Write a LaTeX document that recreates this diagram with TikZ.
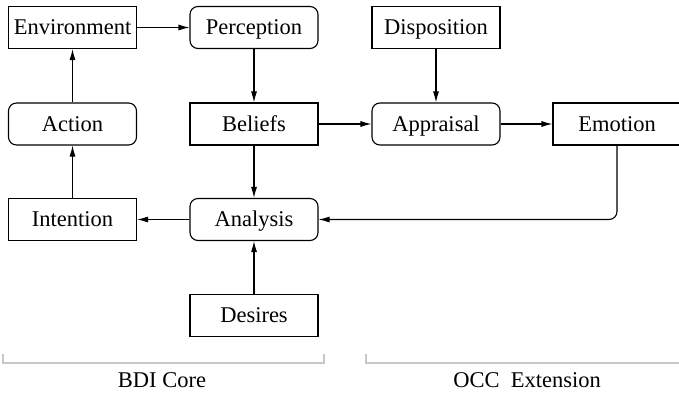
\documentclass[tikz,border=0pt]{standalone}
\usepackage{fontspec}
\setmainfont{Liberation Serif}
\usetikzlibrary{arrows.meta}
\begin{document}
\begin{tikzpicture}[x=1pt,y=-1pt,
  every node/.style={font=\fontsize{22.5}{26}\selectfont},
  sqbox/.style={draw,line width=1.1pt,minimum width=128pt,minimum height=42pt,
    inner sep=0pt,text height=19pt,text depth=4.5pt},
  rndbox/.style={sqbox,rounded corners=8pt},
  flow/.style={line width=1.1pt,-{Latex[length=11pt,width=6pt]}},
  brace/.style={draw=black!22,line width=1.2pt},
  grouplabel/.style={font=\fontsize{22.5}{26}\selectfont}]
  \useasboundingbox (0,0) rectangle (679,393);
  \clip (0,0) rectangle (679,393);

  % nodes
  \node[sqbox]  (env)  at (72.5,27.5)  {Environment};
  \node[rndbox] (perc) at (254,27.5)   {Perception};
  \node[sqbox]  (disp) at (436,27.5)   {Disposition};
  \node[rndbox] (act)  at (72.5,124)   {Action};
  \node[sqbox]  (bel)  at (254,124)    {Beliefs};
  \node[rndbox] (appr) at (436,124)    {Appraisal};
  \node[sqbox]  (emo)  at (617,124)    {Emotion};
  \node[sqbox]  (int)  at (72.5,219.5) {Intention};
  \node[rndbox] (ana)  at (254,219.5)  {Analysis};
  \node[sqbox]  (des)  at (254,315.5)  {Desires};

  % connectors
  \draw[flow] (env) -- (perc);
  \draw[flow] (perc) -- (bel);
  \draw[flow] (disp) -- (appr);
  \draw[flow] (bel) -- (appr);
  \draw[flow] (appr) -- (emo);
  \draw[flow] (bel) -- (ana);
  \draw[flow] (ana) -- (int);
  \draw[flow] (int) -- (act);
  \draw[flow] (act) -- (env);
  \draw[flow] (des) -- (ana);
  \draw[flow,rounded corners=8pt] (emo.south) |- (ana.east);

  % group brackets
  \coordinate (bdiL) at (3,354);
  \coordinate (bdiR) at (324,354);
  \coordinate (occL) at (366,354);
  \coordinate (occR) at (690,354);
  \draw[brace] (bdiL) -- ++(0,9) -| (bdiR);
  \draw[brace] (occL) -- ++(0,9) -| (occR);
  \node[grouplabel] (bdi) at (162,380) {BDI Core};
  \node[grouplabel] (occ) at (527,380) {OCC\ \ Extension};
\end{tikzpicture}
\end{document}
